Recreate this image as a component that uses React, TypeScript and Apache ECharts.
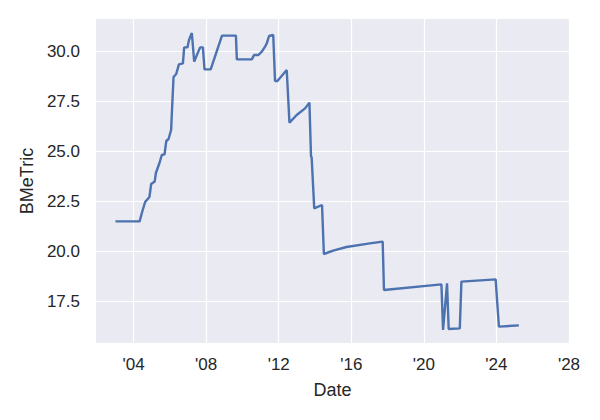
import React, { useEffect, useRef } from "react";
import * as echarts from "echarts";

const dates: string[] = [
  "2003-01-01", "2004-05-01", "2004-06-15", "2004-08-20", "2004-11-15", "2004-12-20",
  "2005-03-01", "2005-03-25", "2005-06-05", "2005-07-22", "2005-09-15", "2005-10-20",
  "2005-12-05", "2006-01-25", "2006-03-15", "2006-05-08", "2006-07-01", "2006-09-20",
  "2006-10-15", "2006-12-20", "2007-01-20", "2007-03-18", "2007-05-05", "2007-06-28",
  "2007-09-01", "2007-10-27", "2007-11-28", "2008-04-01", "2008-11-15", "2009-08-22",
  "2009-09-10", "2010-07-08", "2010-08-22", "2010-11-18", "2011-01-25", "2011-04-01",
  "2011-05-05", "2011-06-20", "2011-09-12", "2011-10-18", "2011-12-05", "2012-06-10",
  "2012-08-04", "2012-12-28", "2013-06-15", "2013-09-10", "2013-10-12", "2013-10-25",
  "2013-12-16", "2014-05-22", "2014-06-28", "2015-01-01", "2015-09-26", "2017-01-10",
  "2017-09-24", "2017-10-20", "2020-12-20", "2021-01-22", "2021-04-12", "2021-05-15",
  "2021-12-25", "2022-01-26", "2023-12-16", "2024-02-20", "2025-03-28",
];

const values: number[] = [
  21.48, 21.48, 21.9, 22.45, 22.7, 23.35,
  23.47, 23.9, 24.4, 24.8, 24.83, 25.5,
  25.6, 26.05, 28.7, 28.85, 29.33, 29.38,
  30.18, 30.18, 30.55, 30.9, 29.47, 29.8,
  30.18, 30.18, 29.08, 29.08, 30.77, 30.77,
  29.58, 29.58, 29.8, 29.8, 29.97, 30.22,
  30.38, 30.75, 30.8, 28.5, 28.5, 29.05,
  26.42, 26.8, 27.13, 27.42, 24.75, 24.68,
  22.13, 22.3, 19.85, 20.02, 20.2, 20.38,
  20.47, 18.05, 18.33, 16.05, 18.38, 16.1,
  16.13, 18.47, 18.58, 16.22, 16.28,
];

const xTickYears: number[] = [2004, 2008, 2012, 2016, 2020, 2024, 2028];
const yTicks: number[] = [17.5, 20.0, 22.5, 25.0, 27.5, 30.0];

const xMinDate = "2001-12-05";
const xMaxDate = "2028-01-01";
const yMin = 15.4;
const yMax = 31.6;

function decimalYear(d: string): number {
  const t = Date.parse(d);
  const y = new Date(t).getUTCFullYear();
  const start = Date.UTC(y, 0, 1);
  const end = Date.UTC(y + 1, 0, 1);
  return y + (t - start) / (end - start);
}

export default function App() {
  const ref = useRef<HTMLDivElement>(null);

  useEffect(() => {
    if (!ref.current) return;
    const chart = echarts.init(ref.current, undefined, { renderer: "svg" });
    const data = dates.map((d, i) => [decimalYear(d), values[i]]);
    const textColor = "#262626";
    const font = "Liberation Sans, Arial, sans-serif";

    chart.setOption({
      animation: false,
      backgroundColor: "#ffffff",
      grid: {
        left: 96,
        top: 19,
        right: 31,
        bottom: 77,
        show: true,
        backgroundColor: "#EAEAF2",
        borderWidth: 0,
      },
      xAxis: {
        type: "value",
        min: decimalYear(xMinDate),
        max: decimalYear(xMaxDate),
        name: "Date",
        nameLocation: "middle",
        nameGap: 38,
        nameTextStyle: { color: textColor, fontSize: 18, fontFamily: font },
        axisLine: { show: false },
        axisTick: { show: false, customValues: xTickYears },
        axisLabel: {
          customValues: xTickYears,
          color: textColor,
          fontSize: 17,
          fontFamily: font,
          margin: 13,
          formatter: (v: number) => "'" + String(Math.round(v)).slice(2),
        },
        splitLine: { show: true, lineStyle: { color: "#ffffff", width: 1.2 } },
      },
      yAxis: {
        type: "value",
        min: yMin,
        max: yMax,
        name: "BMeTric",
        nameLocation: "middle",
        nameGap: 58,
        nameTextStyle: { color: textColor, fontSize: 18, fontFamily: font },
        axisLine: { show: false },
        axisTick: { show: false, customValues: yTicks },
        axisLabel: {
          customValues: yTicks,
          color: textColor,
          fontSize: 17,
          fontFamily: font,
          margin: 16,
          formatter: (v: number) => v.toFixed(1),
        },
        splitLine: { show: true, lineStyle: { color: "#ffffff", width: 1.2 } },
      },
      series: [
        {
          type: "line",
          data,
          showSymbol: false,
          symbol: "none",
          lineStyle: { color: "#4C72B0", width: 2.4 },
          itemStyle: { color: "#4C72B0" },
        },
      ],
    });

    return () => chart.dispose();
  }, []);

  return <div ref={ref} style={{ width: 600, height: 420, position: "absolute", left: 0, top: 0 }} />;
}
